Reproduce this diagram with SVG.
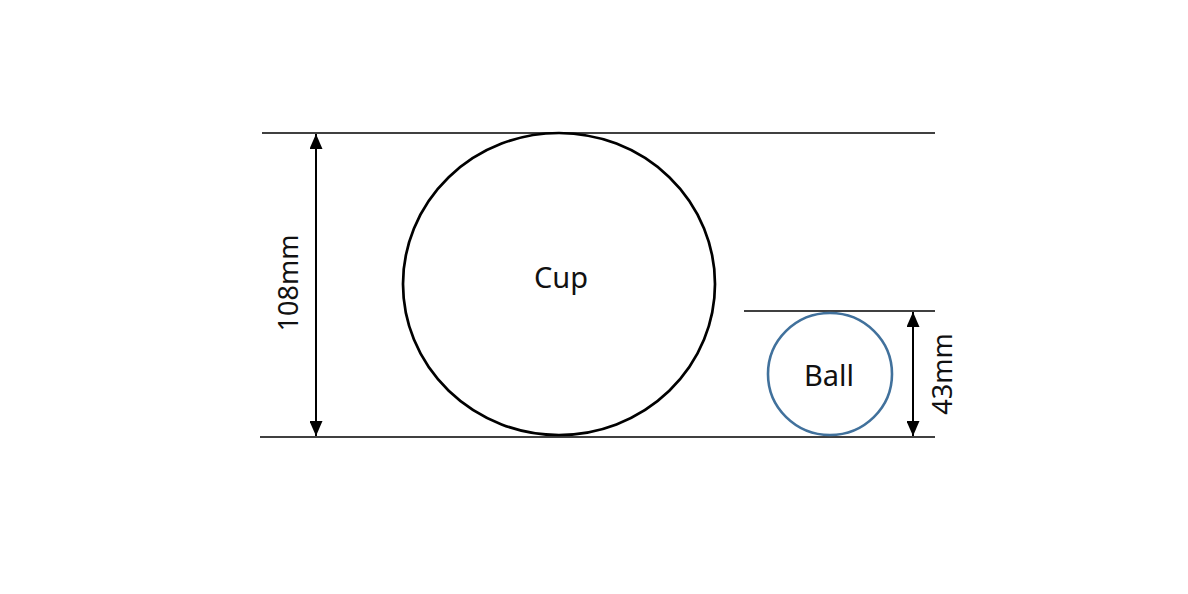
<svg xmlns="http://www.w3.org/2000/svg" width="1188" height="594" viewBox="0 0 1188 594">
<defs>
<marker id="ah" viewBox="0 0 10 10" refX="10" refY="5" markerWidth="7.5" markerHeight="6.5" orient="auto-start-reverse" markerUnits="strokeWidth" preserveAspectRatio="none">
<path d="M0,0 L10,5 L0,10 Z" fill="#000"/>
</marker>
<style>
.ln{stroke:#000;stroke-width:1.3;fill:none}
.dim{stroke:#000;stroke-width:2;fill:none}
.t{font-family:"Noto Sans","Open Sans",sans-serif;fill:#111;text-anchor:middle;dominant-baseline:central}
.big{font-size:29px}
.lab{font-size:27px}
</style>
</defs>
<rect width="1188" height="594" fill="#fff"/>
<g id="connectors">
<line class="ln" x1="262" y1="133" x2="935" y2="133"/>
<line class="ln" x1="260" y1="437" x2="935" y2="437"/>
<line class="ln" x1="744" y1="311" x2="935" y2="311"/>
<line class="dim" x1="316" y1="134" x2="316" y2="436" marker-start="url(#ah)" marker-end="url(#ah)"/>
<line class="dim" x1="913" y1="312" x2="913" y2="436" marker-start="url(#ah)" marker-end="url(#ah)"/>
</g>
<g id="cup">
<ellipse cx="559" cy="284" rx="156" ry="151" fill="none" stroke="#000" stroke-width="2.7"/>
<text class="t big" x="561" y="276">Cup</text>
</g>
<g id="ball">
<ellipse cx="830" cy="374" rx="62" ry="61" fill="none" stroke="#41719c" stroke-width="2.6"/>
<text class="t big" x="829" y="374">Ball</text>
</g>
<g id="label-108">
<text class="t lab" transform="translate(287,283) rotate(-90)">108mm</text>
</g>
<g id="label-43">
<text class="t lab" transform="translate(941,374) rotate(-90)">43mm</text>
</g>
</svg>
